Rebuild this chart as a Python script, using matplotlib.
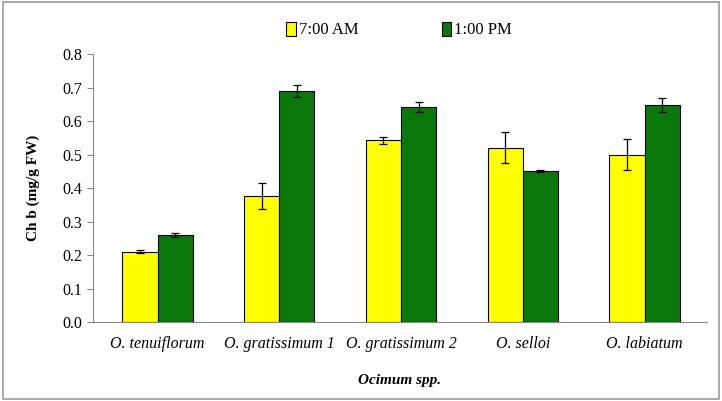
import matplotlib
matplotlib.use("Agg")
import matplotlib.pyplot as plt
import numpy as np
from matplotlib.patches import Rectangle

species = ["O. tenuiflorum", "O. gratissimum 1", "O. gratissimum 2", "O. selloi", "O. labiatum"]
am_values = [0.21, 0.375, 0.543, 0.521, 0.50]
am_errors = [0.005, 0.039, 0.011, 0.047, 0.047]
pm_values = [0.26, 0.691, 0.643, 0.45, 0.648]
pm_errors = [0.007, 0.018, 0.015, 0.003, 0.022]
yticks = [0.0, 0.1, 0.2, 0.3, 0.4, 0.5, 0.6, 0.7, 0.8]

plt.rcParams["font.family"] = ["Liberation Serif", "DejaVu Serif"]

fig = plt.figure(figsize=(7.22, 4.01), dpi=100)
ax = fig.add_axes([0.1288, 0.197, 0.850, 0.668])

x = np.arange(len(species))
w = 0.289
err_kw = dict(ecolor="black", elinewidth=0.9, capsize=3, capthick=0.9)
ax.bar(x - w / 2, am_values, w, yerr=am_errors, color="#FFFF00",
       edgecolor="black", linewidth=0.8, label="7:00 AM", error_kw=err_kw)
ax.bar(x + w / 2, pm_values, w, yerr=pm_errors, color="#0A780A",
       edgecolor="black", linewidth=0.8, label="1:00 PM", error_kw=err_kw)

ax.set_xlim(-0.53, 4.51)
ax.set_ylim(0, 0.8)
ax.set_yticks(yticks)
ax.set_yticklabels([f"{t:.1f}" for t in yticks], fontsize=11.5)
ax.set_xticks(x)
ax.set_xticklabels(species, fontsize=11.5, style="italic")
ax.tick_params(axis="x", length=0, pad=10)
ax.tick_params(axis="y", length=4, color="#888888", direction="out")
for s in ["top", "right"]:
    ax.spines[s].set_visible(False)
for s in ["left", "bottom"]:
    ax.spines[s].set_color("#888888")

ax.set_ylabel("Ch b (mg/g FW)", fontsize=11, fontweight="bold", labelpad=16)
ax.set_xlabel("Ocimum spp.", fontsize=11, fontweight="bold", style="italic", labelpad=16)

fig.legend(loc="center", bbox_to_anchor=(0.553, 0.925), ncol=2, frameon=False,
           fontsize=12, handlelength=0.55, handleheight=0.9, handletextpad=0.2,
           columnspacing=5.0)

fig.patches.append(Rectangle((0.004, 0.006), 0.992, 0.988, transform=fig.transFigure,
                             fill=False, edgecolor="#999999", linewidth=1.2))

fig.savefig("out.png", dpi=100)
